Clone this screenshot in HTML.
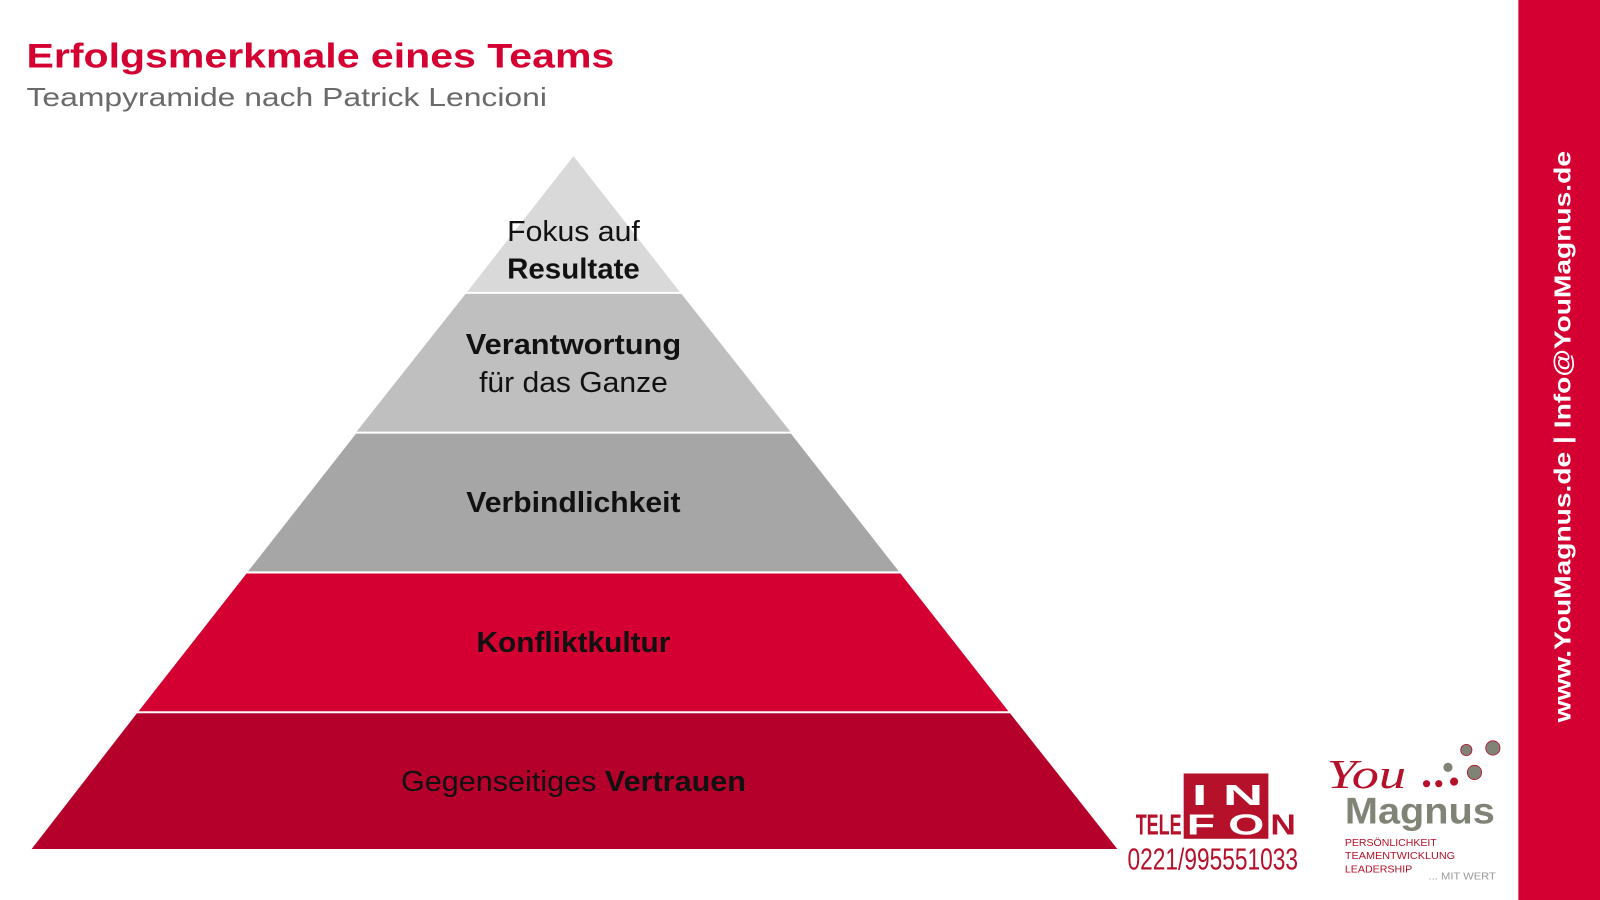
<!DOCTYPE html>
<html><head><meta charset="utf-8"><style>
html,body{margin:0;padding:0;background:#fff;}
svg{display:block;}
</style></head><body>
<svg width="1600" height="900" viewBox="0 0 1568 882" preserveAspectRatio="none" xmlns="http://www.w3.org/2000/svg" font-family="Liberation Sans, sans-serif">
<rect x="0" y="0" width="1568" height="882" fill="#fff"/>
<rect x="1488" y="0" width="80" height="882" fill="#d50032"/>
<text transform="translate(1539,428) rotate(-90)" text-anchor="middle" font-size="23" font-weight="bold" fill="#fff" textLength="560" lengthAdjust="spacingAndGlyphs">www.YouMagnus.de |  Info@YouMagnus.de</text>

<text x="26" y="66" font-size="34" font-weight="bold" fill="#d50032" textLength="576" lengthAdjust="spacingAndGlyphs">Erfolgsmerkmale eines Teams</text>
<text x="26" y="104" font-size="25" fill="#6a6a6a" textLength="510" lengthAdjust="spacingAndGlyphs">Teampyramide nach Patrick Lencioni</text>

<polygon points="562,153 666.2,286 457.8,286" fill="#d9d9d9"/>
<polygon points="456.2,288 667.8,288 774.5,423 349.5,423" fill="#bfbfbf"/>
<polygon points="348.9,425 775.1,425 880.9,560 243.1,560" fill="#a6a6a6"/>
<polygon points="241.6,562 882.4,562 988.2,697 135.8,697" fill="#d50032"/>
<polygon points="134.2,699 989.8,699 1095,832 31,832" fill="#b5002c"/>

<g font-size="28" fill="#111" text-anchor="middle">
<text x="562" y="236" textLength="130" lengthAdjust="spacingAndGlyphs">Fokus auf</text>
<text x="562" y="273" font-weight="bold" textLength="130" lengthAdjust="spacingAndGlyphs">Resultate</text>
<text x="562" y="347" font-weight="bold" textLength="211" lengthAdjust="spacingAndGlyphs">Verantwortung</text>
<text x="562" y="384" textLength="185" lengthAdjust="spacingAndGlyphs">für das Ganze</text>
<text x="562" y="502" font-weight="bold" textLength="210" lengthAdjust="spacingAndGlyphs">Verbindlichkeit</text>
<text x="562" y="639" font-weight="bold" textLength="190" lengthAdjust="spacingAndGlyphs">Konfliktkultur</text>
<text x="562" y="775" textLength="338" lengthAdjust="spacingAndGlyphs">Gegenseitiges <tspan font-weight="bold">Vertrauen</tspan></text>
</g>

<!-- INFO TELEFON logo -->
<rect x="1160" y="758" width="83" height="64" fill="#b5112a"/>
<g font-weight="bold" font-size="28">
<text x="1168" y="789" fill="#fff" textLength="70" lengthAdjust="spacingAndGlyphs">I  N</text>
<text x="1113" y="818" fill="#b5112a" textLength="45" lengthAdjust="spacingAndGlyphs">TELE</text>
<text x="1163" y="818" fill="#fff" textLength="76" lengthAdjust="spacingAndGlyphs">F O</text>
<text x="1245" y="818" fill="#b5112a" textLength="25" lengthAdjust="spacingAndGlyphs">N</text>
</g>
<text x="1105" y="852" font-size="30" fill="#b5112a" textLength="167" lengthAdjust="spacingAndGlyphs">0221/995551033</text>

<!-- YouMagnus logo -->
<text x="1300" y="772" font-family="Liberation Serif, serif" font-style="italic" font-size="40" fill="#b5112a" textLength="78" lengthAdjust="spacingAndGlyphs">You</text>
<circle cx="1398" cy="768" r="3.5" fill="#b5112a"/>
<circle cx="1410" cy="768" r="3.5" fill="#b5112a"/>
<circle cx="1425" cy="766" r="4" fill="#b5112a"/>
<circle cx="1419" cy="752" r="4.5" fill="#808476"/>
<circle cx="1445" cy="757" r="7" fill="#808476" stroke="#b5112a" stroke-width="0.8"/>
<circle cx="1437" cy="735" r="5.5" fill="#808476" stroke="#b5112a" stroke-width="0.8"/>
<circle cx="1463" cy="733" r="7" fill="#808476" stroke="#b5112a" stroke-width="0.8"/>
<text x="1318" y="807" font-size="36" font-weight="bold" fill="#808476" textLength="147" lengthAdjust="spacingAndGlyphs">Magnus</text>
<g font-size="10" fill="#b5112a">
<text x="1318" y="829" textLength="90" lengthAdjust="spacingAndGlyphs">PERSÖNLICHKEIT</text>
<text x="1318" y="842" textLength="108" lengthAdjust="spacingAndGlyphs">TEAMENTWICKLUNG</text>
<text x="1318" y="855" textLength="66" lengthAdjust="spacingAndGlyphs">LEADERSHIP</text>
</g>
<text x="1400" y="862" font-size="10" fill="#999" textLength="66" lengthAdjust="spacingAndGlyphs">... MIT WERT</text>
</svg>
</body></html>
